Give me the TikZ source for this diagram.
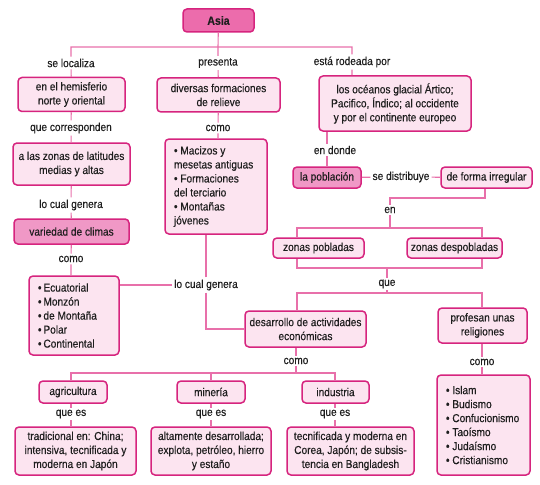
\documentclass[tikz,border=0pt]{standalone}
\usepackage{fontspec}
\setmainfont{Liberation Sans}[FakeStretch=0.88, FakeBold=0.35]
\definecolor{BoxRim}{RGB}{214,36,126}
\definecolor{SoftPink}{RGB}{252,228,240}
\definecolor{MidPink}{RGB}{240,152,198}
\definecolor{AsiaPink}{RGB}{236,108,172}
\definecolor{LinkPink}{RGB}{232,112,170}
\definecolor{TextGray}{RGB}{30,30,30}
\usetikzlibrary{positioning,calc}

\begin{document}
\begin{tikzpicture}[x=1pt, y=-1pt,
      every node/.style={font=\fontsize{11.5}{14}\selectfont, align=center, text=TextGray},
      box/.style={draw=BoxRim, fill=SoftPink, rounded corners=4pt, line width=1.5pt, inner sep=2pt},
      hibox/.style={box, fill=MidPink},
      listbox/.style={box, align=flush left, inner xsep=9pt, inner ysep=4pt},
      lbl/.style={inner sep=2pt},
      lnk/.style={draw=LinkPink, line width=1.1pt}
  ]
    \useasboundingbox (0,0) rectangle (540,484);
    % concept boxes
    \node[box, fill=AsiaPink, minimum width=71pt, minimum height=23pt, font=\fontsize{12}{14}\selectfont\bfseries] (asia) at (218.5,20.5) {Asia};
    \node[box, minimum width=107pt, minimum height=34pt] (hem) at (71.5,94.5) {en el hemisferio\\norte y oriental};
    \node[box, minimum width=123pt, minimum height=34pt] (div) at (218.5,95) {diversas formaciones\\de relieve};
    \node[box, minimum width=152pt, minimum height=55pt] (oce) at (395,103.5) {los océanos glacial Ártico;\\Pacifico, Índico; al occidente\\y por el continente europeo};
    \node[box, minimum width=117pt, minimum height=42pt] (zon) at (71.5,164) {a las zonas de latitudes\\medias y altas};
    \node[hibox, minimum width=115pt, minimum height=25pt] (var) at (71.5,231.5) {variedad de climas};
    \node[listbox, text width=72pt, minimum height=79pt] (clim) at (74,315.5) {•\,Ecuatorial\\•\,Monzón\\•\,de Montaña\\•\,Polar\\•\,Continental};
    \node[listbox, text width=84pt, minimum height=95pt] (mac) at (216,186.5) {• Macizos y\\mesetas antiguas\\• Formaciones\\del terciario\\• Montañas\\jóvenes};
    \node[hibox, minimum width=68pt, minimum height=21pt] (pob) at (327,177.5) {la población};
    \node[box, minimum width=91pt, minimum height=21pt] (irr) at (486.5,177.5) {de forma irregular};
    \node[box, minimum width=91pt, minimum height=20pt] (zp) at (318.5,248) {zonas pobladas};
    \node[box, minimum width=95pt, minimum height=20pt] (zd) at (454.5,248) {zonas despobladas};
    \node[box, minimum width=121pt, minimum height=36pt] (des) at (305.5,329) {desarrollo de actividades\\económicas};
    \node[box, minimum width=89pt, minimum height=35pt] (rel) at (482.5,325.5) {profesan unas\\religiones};
    \node[box, minimum width=68pt, minimum height=22pt] (agr) at (73,392) {agricultura};
    \node[box, minimum width=68pt, minimum height=22pt] (min) at (211,392) {minería};
    \node[box, minimum width=67pt, minimum height=22pt] (ind) at (335.5,392) {industria};
    \node[box, minimum width=121pt, minimum height=48pt] (tra) at (75.5,451) {tradicional en: China;\\intensiva, tecnificada y\\moderna en Japón};
    \node[box, minimum width=120pt, minimum height=48pt] (alt) at (211,451) {altamente desarrollada;\\explota, petróleo, hierro\\y estaño};
    \node[box, minimum width=127pt, minimum height=48pt] (tec) at (350.5,451) {tecnificada y moderna en\\Corea, Japón; de subsis-\\tencia en Bangladesh};
    \node[listbox, text width=75pt, minimum height=100pt] (relg) at (483.5,425) {• Islam\\• Budismo\\• Confucionismo\\• Taoísmo\\• Judaísmo\\• Cristianismo};
    % linking words
    \node[lbl] (loc) at (71,63) {se localiza};
    \node[lbl] (pre) at (218,63) {presenta};
    \node[lbl] (rod) at (352,62) {está rodeada por};
    \node[lbl] (cor) at (71,128) {que corresponden};
    \node[lbl] (como1) at (218,128) {como};
    \node[lbl] (gen1) at (71,205) {lo cual genera};
    \node[lbl] (como2) at (71,259) {como};
    \node[lbl] (gen2) at (206,285) {lo cual genera};
    \node[lbl] (don) at (335,150) {en donde};
    \node[lbl] (dis) at (401,177) {se distribuye};
    \node[lbl] (en) at (390,210) {en};
    \node[lbl] (que) at (387,284) {que};
    \node[lbl] (como3) at (296,361) {como};
    \node[lbl] (como4) at (482,362) {como};
    \node[lbl] (es1) at (71,414) {que es};
    \node[lbl] (es2) at (211,414) {que es};
    \node[lbl] (es3) at (335,414) {que es};
    % branch points
    \coordinate (top) at (218,47);
    \coordinate (bl) at (297,228);
    \coordinate (br) at (482,228);
    \coordinate (cl) at (297,268);
    \coordinate (cr) at (482,268);
    \coordinate (dl) at (297,293);
    \coordinate (dr) at (482,293);
    \coordinate (el) at (71,373);
    \coordinate (er) at (335,373);
    \coordinate (bend) at (390,198);
    % connectors
    \draw[lnk] (asia) -- (top);
    \draw[lnk] (hem) -- (loc) -- (loc |- top) -- (rod |- top) -- (rod) -- (rod |- oce.north);
    \draw[lnk] (top) -- (pre) -- (div);
    \draw[lnk] (hem) -- (cor) -- (zon);
    \draw[lnk] (zon) -- (gen1) -- (var);
    \draw[lnk] (var) -- (como2) -- (clim.north -| como2);
    \draw[lnk] (div) -- (como1) -- (como1 |- mac.north);
    \draw[lnk] (gen2) -- (gen2 |- mac.south);
    \draw[lnk] (clim.east |- gen2) -- (gen2);
    \draw[lnk] (gen2) |- (des);
    \draw[lnk] (oce.south -| pob) -- (don.north -| pob);
    \draw[lnk] (don.south -| pob) -- (pob);
    \draw[lnk] (pob) -- (dis) -- (irr);
    \draw[lnk] (irr.south -| 485,0) |- (bend) -- (en);
    \draw[lnk] (en) -- (en |- bl);
    \draw[lnk] (bl |- zp.north) -- (bl) -- (br) -- (br |- zd.north);
    \draw[lnk] (zp.south -| cl) -- (cl) -- (cr) -- (zd.south -| cr);
    \draw[lnk] (que |- cl) -- (que) -- (que |- dl);
    \draw[lnk] (des.north -| dl) -- (dl) -- (dr) -- (rel.north -| dr);
    \draw[lnk] (des.south -| como3) -- (como3) -- (como3 |- el);
    \draw[lnk] (agr.north -| el) -- (el) -- (er) -- (ind.north -| er);
    \draw[lnk] (min) -- (min |- el);
    \draw[lnk] (agr.south -| es1) -- (es1) -- (es1 |- tra.north);
    \draw[lnk] (min) -- (es2) -- (alt);
    \draw[lnk] (ind.south -| es3) -- (es3) -- (es3 |- tec.north);
    \draw[lnk] (rel.south -| como4) -- (como4) -- (como4 |- relg.north);
  \end{tikzpicture}
\end{document}
